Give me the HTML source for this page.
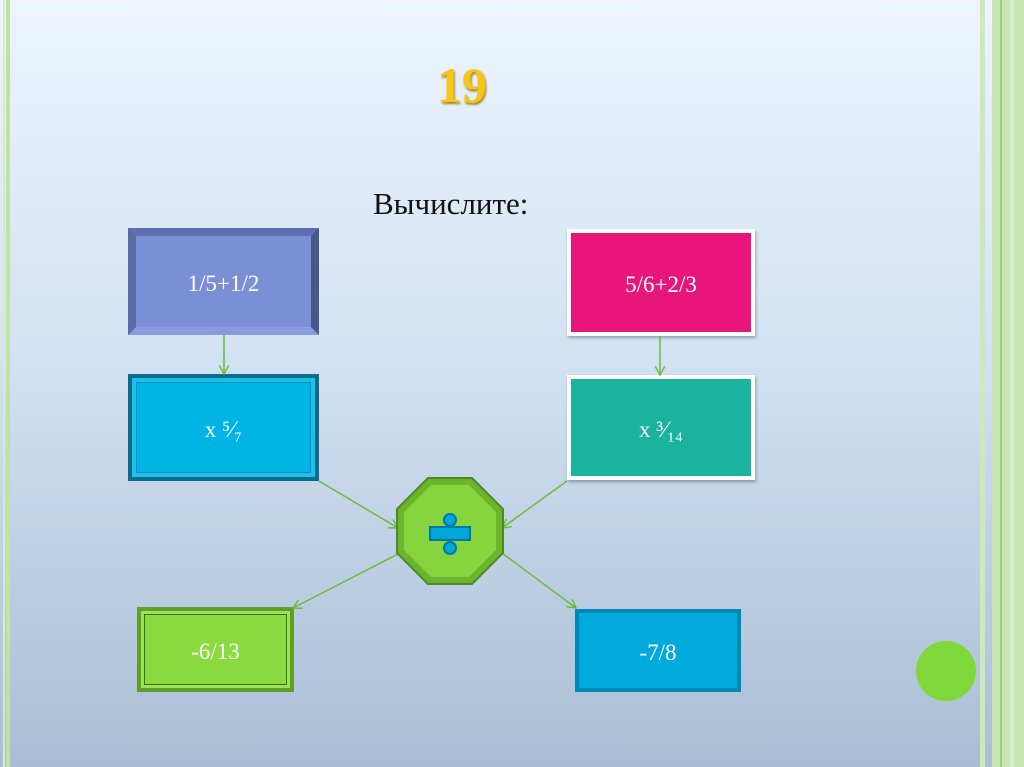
<!DOCTYPE html>
<html><head><meta charset="utf-8"><style>
body{margin:0;width:1024px;height:767px;overflow:hidden;position:relative;background:linear-gradient(#edf4fc 0%,#d3e3f3 45%,#a9bdd4 100%);font-family:"Liberation Serif",serif}
.b{position:absolute;box-sizing:border-box;display:flex;align-items:center;justify-content:center;color:#fff;font-size:23px;padding-top:4px}
</style></head><body>
<div style="position:absolute;left:3px;top:0;width:2px;height:767px;background:#d5ecc8"></div>
<div style="position:absolute;left:6px;top:0;width:4px;height:767px;background:#bfe3a6"></div>
<div style="position:absolute;left:980px;top:0;width:5px;height:767px;background:#cde9bb"></div>
<div style="position:absolute;left:992px;top:0;width:32px;height:767px;background:#c8e6b3"></div>
<div style="position:absolute;left:1000px;top:0;width:2px;height:767px;background:#9ed27a"></div>
<div style="position:absolute;left:1010px;top:0;width:4px;height:767px;background:#d6eec8"></div>
<div style="position:absolute;left:400px;top:56px;width:124px;text-align:center;font-size:50px;font-weight:bold;color:#f5c518;text-shadow:1px 2px 2px #a08020">19</div>
<div style="position:absolute;left:373px;top:186px;font-size:31px;color:#111">Вычислите:</div>
<div class="b" style="left:128px;top:228px;width:191px;height:107px;background:#7b8fd6;border:8px solid;border-color:#5d6fb0 #4a5888 #8a9be0 #5a6aa5">1/5+1/2</div>
<div class="b" style="left:128px;top:374px;width:191px;height:107px;background:#00b4e4;border:4px solid #0a6d8c;box-shadow:inset 0 0 0 4px #1bc0ec, inset 0 0 0 5px #0a8db0">x ⁵⁄₇</div>
<div class="b" style="left:567px;top:229px;width:188px;height:107px;background:#e8157a;border:4px solid #fff;box-shadow:1px 2px 3px rgba(0,0,0,.3)">5/6+2/3</div>
<div class="b" style="left:567px;top:375px;width:188px;height:105px;background:#1ab39e;border:4px solid #fff;box-shadow:1px 2px 3px rgba(0,0,0,.3)">x ³⁄₁₄</div>
<div class="b" style="left:137px;top:607px;width:157px;height:85px;background:#8ada40;border:4px solid #5f9e2c;box-shadow:inset 0 0 0 3px #9ee254, inset 0 0 0 4px #3d6e18">-6/13</div>
<div class="b" style="left:575px;top:609px;width:166px;height:83px;background:#00aadc;border:4px solid #0089b5">-7/8</div>
<div style="position:absolute;left:916px;top:641px;width:60px;height:60px;border-radius:50%;background:#7fd83a"></div>
<svg width="1024" height="767" style="position:absolute;left:0;top:0">
<defs><marker id="a" markerWidth="10" markerHeight="10" refX="9" refY="5" orient="auto" markerUnits="userSpaceOnUse"><path d="M0,0 L9,5 L0,10" fill="none" stroke="#6cbb3c" stroke-width="1.5"/></marker></defs>
<g stroke="#6cbb3c" stroke-width="1.5" fill="none" marker-end="url(#a)">
<line x1="224" y1="335" x2="224" y2="374"/>
<line x1="660" y1="336" x2="660" y2="375"/>
<line x1="319" y1="481" x2="398" y2="528"/>
<line x1="567" y1="481" x2="502" y2="528"/>
<line x1="400" y1="553" x2="293" y2="608"/>
<line x1="502" y1="553" x2="576" y2="608"/>
</g>
<polygon points="428,478 472,478 503,509 503,553 472,584 428,584 397,553 397,509" fill="#6ab42e" stroke="#4d8a20" stroke-width="2"/>
<polygon points="431,485 469,485 496,512 496,550 469,577 431,577 404,550 404,512" fill="#86d43e"/>
<circle cx="450" cy="520" r="6" fill="#00a8d8" stroke="#0078a8" stroke-width="2"/>
<circle cx="450" cy="548" r="6" fill="#00a8d8" stroke="#0078a8" stroke-width="2"/>
<rect x="430" y="527" width="40" height="13" fill="#00a8d8" stroke="#0078a8" stroke-width="2"/>
</svg>
</body></html>
